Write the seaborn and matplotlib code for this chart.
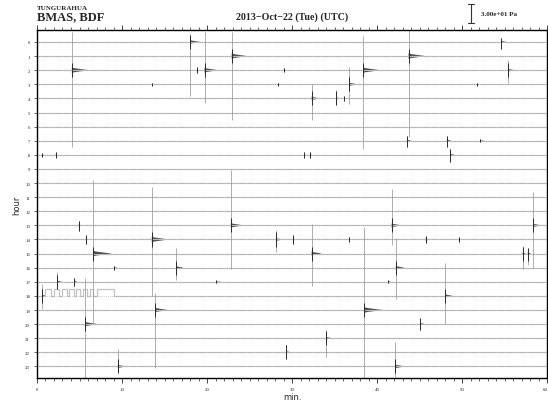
import numpy as np
import pandas as pd
import seaborn as sns
import matplotlib.pyplot as plt
from matplotlib.patches import Polygon

# Helicorder rows: one trace per hour, 60 minutes across
hours = list(range(24))
trace_start = 0.0
trace_end = 60.0

# Events: hour row, minute, extent above / below the trace (in rows), coda length (min)
ev_hour = [0, 0, 1, 1, 2, 2, 2, 2, 2, 2,
           3, 3, 3, 3, 4, 4, 4, 7, 7, 7,
           8, 8, 8, 8, 8, 13, 13, 13, 13, 14,
           14, 14, 14, 14, 14, 14, 15, 15, 15, 15,
           16, 16, 16, 17, 17, 17, 17, 18, 18, 19,
           19, 20, 20, 21, 22, 23, 23]
ev_min = [18.0, 54.6, 22.9, 43.7, 4.1, 18.8, 19.7, 29.0, 38.35, 55.4,
          13.5, 28.4, 36.7, 51.8, 32.3, 35.2, 36.1, 43.5, 48.2, 52.1,
          0.6, 2.2, 31.4, 32.1, 48.6, 4.9, 22.8, 41.7, 58.35, 5.8,
          13.5, 28.1, 30.1, 36.7, 45.7, 49.6, 6.6, 32.3, 57.1, 57.7,
          9.06, 16.4, 42.2, 2.4, 4.35, 21.1, 41.3, 0.6, 48.0, 13.9,
          38.5, 5.65, 45.1, 34.0, 29.3, 9.5, 42.1]
ev_up = [0.6, 0.25, 1.7, 1.85, 2.7, 0.2, 2.7, 0.15, 2.45, 0.7,
         0.12, 0.12, 1.2, 0.1, 1.0, 0.57, 0.2, 0.35, 0.35, 0.1,
         0.15, 0.2, 0.2, 0.2, 0.4, 0.3, 3.9, 2.6, 2.35, 0.3,
         3.7, 0.65, 0.3, 0.15, 0.25, 0.2, 5.2, 2.1, 0.55, 0.4,
         0.15, 1.4, 2.1, 0.7, 0.3, 0.1, 0.1, 0.85, 2.3, 1.2,
         5.9, 3.3, 0.4, 0.55, 0.5, 1.25, 1.7]
ev_down = [3.8, 0.5, 4.5, 5.7, 5.45, 0.2, 2.3, 0.15, 5.6, 0.9,
           0.12, 0.12, 1.4, 0.1, 1.5, 0.5, 0.2, 0.45, 0.45, 0.1,
           0.15, 0.2, 0.2, 0.2, 0.5, 0.4, 3.1, 1.4, 3.0, 0.3,
           4.0, 0.9, 0.3, 0.15, 0.25, 0.2, 5.0, 2.3, 1.1, 0.8,
           0.15, 0.9, 2.2, 0.5, 0.3, 0.1, 0.1, 0.9, 2.0, 4.1,
           4.9, 4.0, 0.45, 1.3, 0.45, 0.5, 1.0]
ev_coda = [1.2, 0.6, 1.8, 2.0, 2.0, 0.3, 1.6, 0.3, 2.0, 0.8,
           0.3, 0.6, 1.0, 0.8, 1.0, 0.5, 0.3, 0.5, 0.5, 0.6,
           0.2, 0.2, 0.2, 0.2, 0.5, 0.4, 1.5, 1.2, 1.0, 0.3,
           2.0, 0.8, 0.4, 0.6, 0.9, 0.4, 2.2, 1.2, 0.4, 0.4,
           0.4, 0.8, 1.0, 0.5, 0.4, 0.6, 0.4, 0.5, 0.9, 1.5,
           2.2, 1.5, 0.5, 0.7, 0.6, 1.0, 1.2]

# Calibration pulse on the 18h trace (minutes where the signal is high)
calib_hour = 18
calib_on = [0.9, 2.0, 2.9, 3.8, 4.6, 5.4, 6.2, 7.0]
calib_off = [1.6, 2.6, 3.5, 4.3, 5.1, 5.9, 6.6, 9.05]
calib_level = 0.5

xticks = [0, 10, 20, 30, 40, 50, 60]

sns.set_style("white")
plt.rcParams['font.family'] = ['Liberation Serif', 'DejaVu Serif']

fig = plt.figure(figsize=(5.48, 4.02), dpi=100)
ax = fig.add_axes([0.0675, 0.0572, 0.931, 0.8664])

# build trace polylines
rows = []
for h in hours:
    if h == calib_hour:
        pts = [(trace_start, h)]
        for on, off in zip(calib_on, calib_off):
            pts += [(on, h), (on, h - calib_level), (off, h - calib_level), (off, h)]
        pts.append((trace_end, h))
    else:
        pts = [(trace_start, h), (trace_end, h)]
    for x, y in pts:
        rows.append({'hour': h, 'minute': x, 'amp': y})
traces = pd.DataFrame(rows)

sns.lineplot(data=traces, x='minute', y='amp', units='hour', estimator=None,
             sort=False, color='#c4c4c4', lw=0.9, ax=ax, legend=False)
# speckled look of the background noise
ax.hlines(hours, trace_start, trace_end, colors='#858585', lw=0.6,
          linestyles=(0, (0.5, 1.8)))

# events: long light spike, dark core, decaying coda
for h, m, up, dn, cd in zip(ev_hour, ev_min, ev_up, ev_down, ev_coda):
    ax.vlines(m, h - up, h + dn, colors='#999999', lw=0.55)
    ax.vlines(m, h - min(up, 0.5), h + min(dn, 0.5), colors='#2a2a2a', lw=0.7)
    a = min(0.2, max(up, dn) * 0.3, 0.05 + 0.08 * cd)
    ax.add_patch(Polygon([(m, h - a), (m + 0.15 * cd, h - 0.7 * a), (m + cd, h),
                          (m + 0.15 * cd, h + 0.7 * a), (m, h + a)], closed=True,
                         facecolor='#444444', edgecolor='none'))

ax.set_xlim(trace_start, trace_end)
ax.set_ylim(23.82, -0.87)
ax.set_xticks(xticks)
ax.set_xticks(np.arange(0, 61, 1), minor=True)
ax.set_xticklabels([str(t) for t in xticks], fontsize=3.5)
ax.get_xticklabels()[-1].set_ha('right')
ax.set_yticks(hours)
ax.set_yticklabels([str(h) for h in hours], fontsize=3.5)
ax.tick_params(axis='x', which='major', direction='out', length=3.5, width=0.6,
               top=True, bottom=True, labeltop=False, pad=3)
ax.tick_params(axis='x', which='minor', direction='out', length=2, width=0.5,
               top=True, bottom=True)
ax.tick_params(axis='y', which='major', direction='out', length=2, width=0.5,
               left=True, pad=3)
for s in ax.spines.values():
    s.set_color('black')
    s.set_linewidth(1.0)
ax.set_xlabel('min.', fontsize=6, labelpad=1, family=['DejaVu Sans'])
ax.set_ylabel('hour', fontsize=6, labelpad=3, family=['DejaVu Sans'])

# header
fig.text(37 / 548, 1 - 10 / 402, 'TUNGURAHUA', fontsize=5, fontweight='bold')
fig.text(37 / 548, 1 - 20 / 402, 'BMAS, BDF', fontsize=9, fontweight='bold')
fig.text(292 / 548, 1 - 20 / 402, '2013\u2212Oct\u221222 (Tue) (UTC)', fontsize=7.2,
         fontweight='bold', ha='center')
# amplitude scale bar
bx, by0, by1 = 471 / 548, 1 - 5 / 402, 1 - 24 / 402
fig.add_artist(plt.Line2D([bx, bx], [by0, by1], color='#333333', lw=0.8))
fig.add_artist(plt.Line2D([bx - 3 / 548, bx + 3 / 548], [by0, by0], color='#333333', lw=0.8))
fig.add_artist(plt.Line2D([bx - 3 / 548, bx + 3 / 548], [by1, by1], color='#333333', lw=0.8))
fig.text(481 / 548, 1 - 15 / 402, '3.00e+01 Pa', fontsize=5, fontweight='bold', va='center')

fig.savefig('out.png', dpi=100)
